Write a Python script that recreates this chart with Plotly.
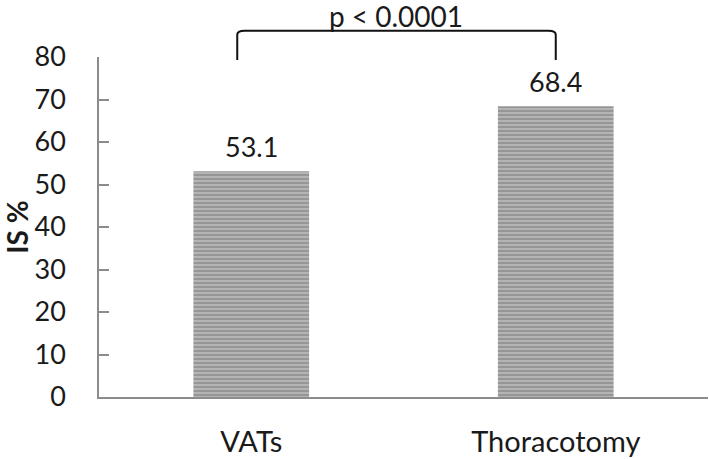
import plotly.graph_objects as go

categories = ["VATs", "Thoracotomy"]
values = [53.1, 68.4]
value_labels = ["53.1", "68.4"]
y_ticks = [0, 10, 20, 30, 40, 50, 60, 70, 80]
p_text = "p < 0.0001"

FONT = "Lato, 'Open Sans', sans-serif"
AXIS_COLOR = "#8c8c8c"
TEXT_COLOR = "#1a1a1a"
Y_MAX = 80

fig = go.Figure()
fig.add_trace(go.Bar(
    x=categories,
    y=values,
    marker=dict(
        color="#b4b4b4",
        line=dict(width=0),
        pattern=dict(shape="-", fgcolor="#707070", bgcolor="#b4b4b4",
                     size=4, solidity=0.45),
    ),
    showlegend=False,
    hoverinfo="skip",
))

# value labels above bars
for c, v, t in zip(categories, values, value_labels):
    fig.add_annotation(x=c, y=v, text=t, showarrow=False, xref="x", yref="y",
                       yanchor="bottom", yshift=6,
                       font=dict(family=FONT, size=27, color=TEXT_COLOR))

# significance bracket (in axis-domain units so it is not clipped)
n = len(categories)
def cat_dom(i):
    return (i + 0.5) / n

x_left = cat_dom(0) - 0.023
x_right = cat_dom(1)
y_bot = 79.3 / Y_MAX
y_top = 86.2 / Y_MAX
r = 0.012
path = (f"M {x_left},{y_bot} L {x_left},{y_top - r} Q {x_left},{y_top} {x_left + r},{y_top} "
        f"L {x_right - r},{y_top} Q {x_right},{y_top} {x_right},{y_top - r} L {x_right},{y_bot}")
fig.add_shape(type="path", path=path, xref="x domain", yref="y domain",
              line=dict(color="#111111", width=2))
fig.add_annotation(x=(x_left + x_right) / 2, y=1.12, xref="x domain", yref="y domain",
                   text=p_text, showarrow=False, yanchor="middle",
                   font=dict(family=FONT, size=28, color=TEXT_COLOR))

fig.update_layout(
    width=709, height=459,
    margin=dict(l=99, r=1, t=57, b=60),
    paper_bgcolor="white", plot_bgcolor="white",
    bargap=0.62,
    font=dict(family=FONT, color=TEXT_COLOR),
)
fig.update_xaxes(
    showline=True, linecolor=AXIS_COLOR, linewidth=1.5,
    showgrid=False, ticks="", zeroline=False,
    tickfont=dict(family=FONT, size=29, color=TEXT_COLOR),
    ticklabelstandoff=18,
)
fig.update_yaxes(
    range=[0, Y_MAX], tickvals=y_ticks,
    showline=True, linecolor=AXIS_COLOR, linewidth=1.5,
    showgrid=False, zeroline=False,
    ticks="inside", ticklen=10, tickcolor=AXIS_COLOR, tickwidth=1.5,
    tickfont=dict(family=FONT, size=27, color=TEXT_COLOR),
    ticklabelstandoff=26,
    title=dict(text="<b>IS %</b>", font=dict(family=FONT, size=28, color=TEXT_COLOR), standoff=0),
)

fig.write_html("out.html", config={"displayModeBar": False},
               post_script="document.body.style.margin='0';document.body.style.padding='0';")
